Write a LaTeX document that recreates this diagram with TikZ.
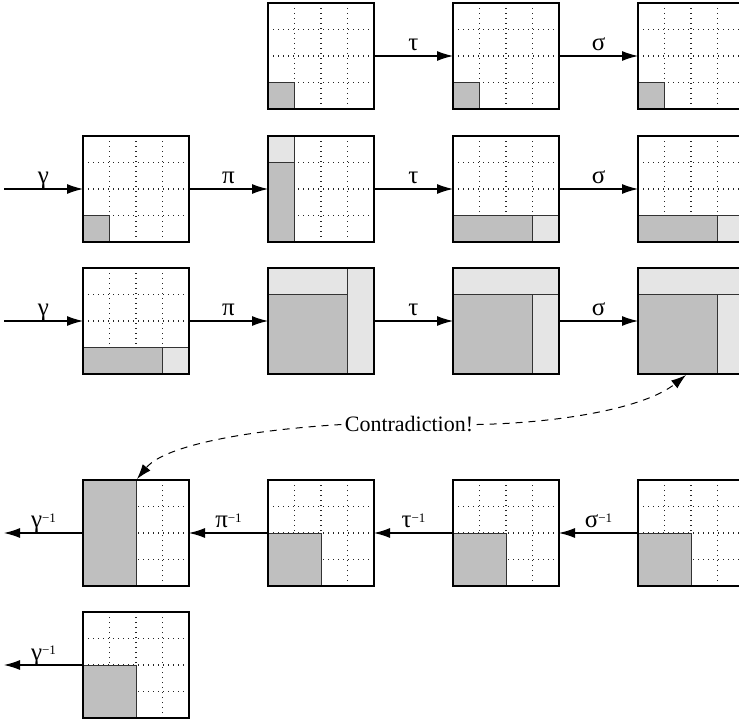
\documentclass[tikz,border=0pt]{standalone}
\usepackage{fontspec}
\setmainfont{Liberation Serif}
\usetikzlibrary{arrows.meta}
\definecolor{darkg}{RGB}{191,191,191}
\definecolor{lightg}{RGB}{229,229,229}
\newcommand{\inv}{\raisebox{2.8pt}{\fontsize{6.5}{6}\selectfont −1}}
\newcommand{\gcontent}[3]{%
  \begin{scope}[shift={(#1,#2)},x=13.25pt,y=13.25pt]
    \draw[dots] (0,1)--(4,1) (0,2)--(4,2) (0,3)--(4,3) (1,0)--(1,4) (2,0)--(2,4) (3,0)--(3,4);
    #3
  \end{scope}}
\tikzset{
  dots/.style={line width=0.6pt, dash pattern=on 0.6pt off 1.9pt, black!85},
  dark/.style={fill=darkg, draw=black!80, line width=0.5pt},
  light/.style={fill=lightg, draw=black!80, line width=0.5pt},
  boxn/.style={draw, line width=0.75pt, minimum size=53pt, inner sep=0pt, outer sep=0pt},
  arr/.style={-{Latex[length=8pt,width=5pt]}, line width=0.55pt},
  lab/.style={font=\fontsize{12.5}{13}\selectfont, anchor=base, inner sep=0pt, yshift=2.5pt},
  dcurve/.style={dash pattern=on 3.5pt off 3pt, line width=0.5pt, -{Latex[length=7.5pt,width=5pt]}},
}
\begin{document}
\begin{tikzpicture}[x=0.5pt,y=-0.5pt]
\useasboundingbox (0,0) rectangle (739,721);
\clip (0,0) rectangle (739,721);
\fill[white] (0,0) rectangle (739,721);
% ---------- row 1 ----------
\gcontent{268}{109}{\draw[dark] (0,0) rectangle (1,1);}
\gcontent{453}{109}{\draw[dark] (0,0) rectangle (1,1);}
\gcontent{638}{109}{\draw[dark] (0,0) rectangle (1,1);}
% ---------- row 2 ----------
\gcontent{83}{242}{\draw[dark] (0,0) rectangle (1,1);}
\gcontent{268}{242}{\draw[dark] (0,0) rectangle (1,3); \draw[light] (0,3) rectangle (1,4);}
\gcontent{453}{242}{\draw[dark] (0,0) rectangle (3,1); \draw[light] (3,0) rectangle (4,1);}
\gcontent{638}{242}{\draw[dark] (0,0) rectangle (3,1); \draw[light] (3,0) rectangle (4,1);}
% ---------- row 3 ----------
\gcontent{83}{374}{\draw[dark] (0,0) rectangle (3,1); \draw[light] (3,0) rectangle (4,1);}
\gcontent{268}{374}{\draw[dark] (0,0) rectangle (3,3); \draw[light] (0,3) rectangle (3,4); \draw[light] (3,0) rectangle (4,4);}
\gcontent{453}{374}{\draw[dark] (0,0) rectangle (3,3); \draw[light] (0,3) rectangle (4,4); \draw[light] (3,0) rectangle (4,3);}
\gcontent{638}{374}{\draw[dark] (0,0) rectangle (3,3); \draw[light] (0,3) rectangle (4,4); \draw[light] (3,0) rectangle (4,3);}
% ---------- row 4 ----------
\gcontent{83}{586}{\draw[dark] (0,0) rectangle (2,4);}
\gcontent{268}{586}{\draw[dark] (0,0) rectangle (2,2);}
\gcontent{453}{586}{\draw[dark] (0,0) rectangle (2,2);}
\gcontent{638}{586}{\draw[dark] (0,0) rectangle (2,2);}
% ---------- row 5 ----------
\gcontent{83}{718}{\draw[dark] (0,0) rectangle (2,2);}
% ---------- box nodes ----------
\node[boxn] (b12) at (321,56) {};
\node[boxn] (b13) at (506,56) {};
\node[boxn] (b14) at (691,56) {};
\node[boxn] (b21) at (136,189) {};
\node[boxn] (b22) at (321,189) {};
\node[boxn] (b23) at (506,189) {};
\node[boxn] (b24) at (691,189) {};
\node[boxn] (b31) at (136,321) {};
\node[boxn] (b32) at (321,321) {};
\node[boxn] (b33) at (506,321) {};
\node[boxn] (b34) at (691,321) {};
\node[boxn] (b41) at (136,533) {};
\node[boxn] (b42) at (321,533) {};
\node[boxn] (b43) at (506,533) {};
\node[boxn] (b44) at (691,533) {};
\node[boxn] (b51) at (136,665) {};
\coordinate (s2) at (4,189);
\coordinate (s3) at (4,321);
\coordinate (e4) at (4,533);
\coordinate (e5) at (4,665);
% ---------- arrows ----------
\draw[arr] (b12.east) -- node[lab] (l12) {τ} (b13.west);
\draw[arr] (b13.east) -- node[lab] (l13) {σ} (b14.west);
\draw[arr] (s2) -- node[lab] (l20) {γ} (b21.west);
\draw[arr] (b21.east) -- node[lab] (l21) {π} (b22.west);
\draw[arr] (b22.east) -- node[lab] (l22) {τ} (b23.west);
\draw[arr] (b23.east) -- node[lab] (l23) {σ} (b24.west);
\draw[arr] (s3) -- node[lab] (l30) {γ} (b31.west);
\draw[arr] (b31.east) -- node[lab] (l31) {π} (b32.west);
\draw[arr] (b32.east) -- node[lab] (l32) {τ} (b33.west);
\draw[arr] (b33.east) -- node[lab] (l33) {σ} (b34.west);
\draw[arr] (b44.west) -- node[lab] (l43) {σ\inv} (b43.east);
\draw[arr] (b43.west) -- node[lab] (l42) {τ\inv} (b42.east);
\draw[arr] (b42.west) -- node[lab] (l41) {π\inv} (b41.east);
\draw[arr] (b41.west) -- node[lab] (l40) {γ\inv} (e4);
\draw[arr] (b51.west) -- node[lab] (l50) {γ\inv} (e5);
% ---------- contradiction ----------
\node[font=\fontsize{11}{12}\selectfont, inner sep=1.5pt, anchor=base] (contra) at (409,432) {Contradiction!};
\coordinate (tipL) at (137,479);
\coordinate (tipR) at (686,375);
\draw[dcurve] (contra.west) .. controls (250,430) and (165,445) .. (tipL);
\draw[dcurve] (contra.east) .. controls (560,423) and (645,408) .. (tipR);
\end{tikzpicture}
\end{document}
